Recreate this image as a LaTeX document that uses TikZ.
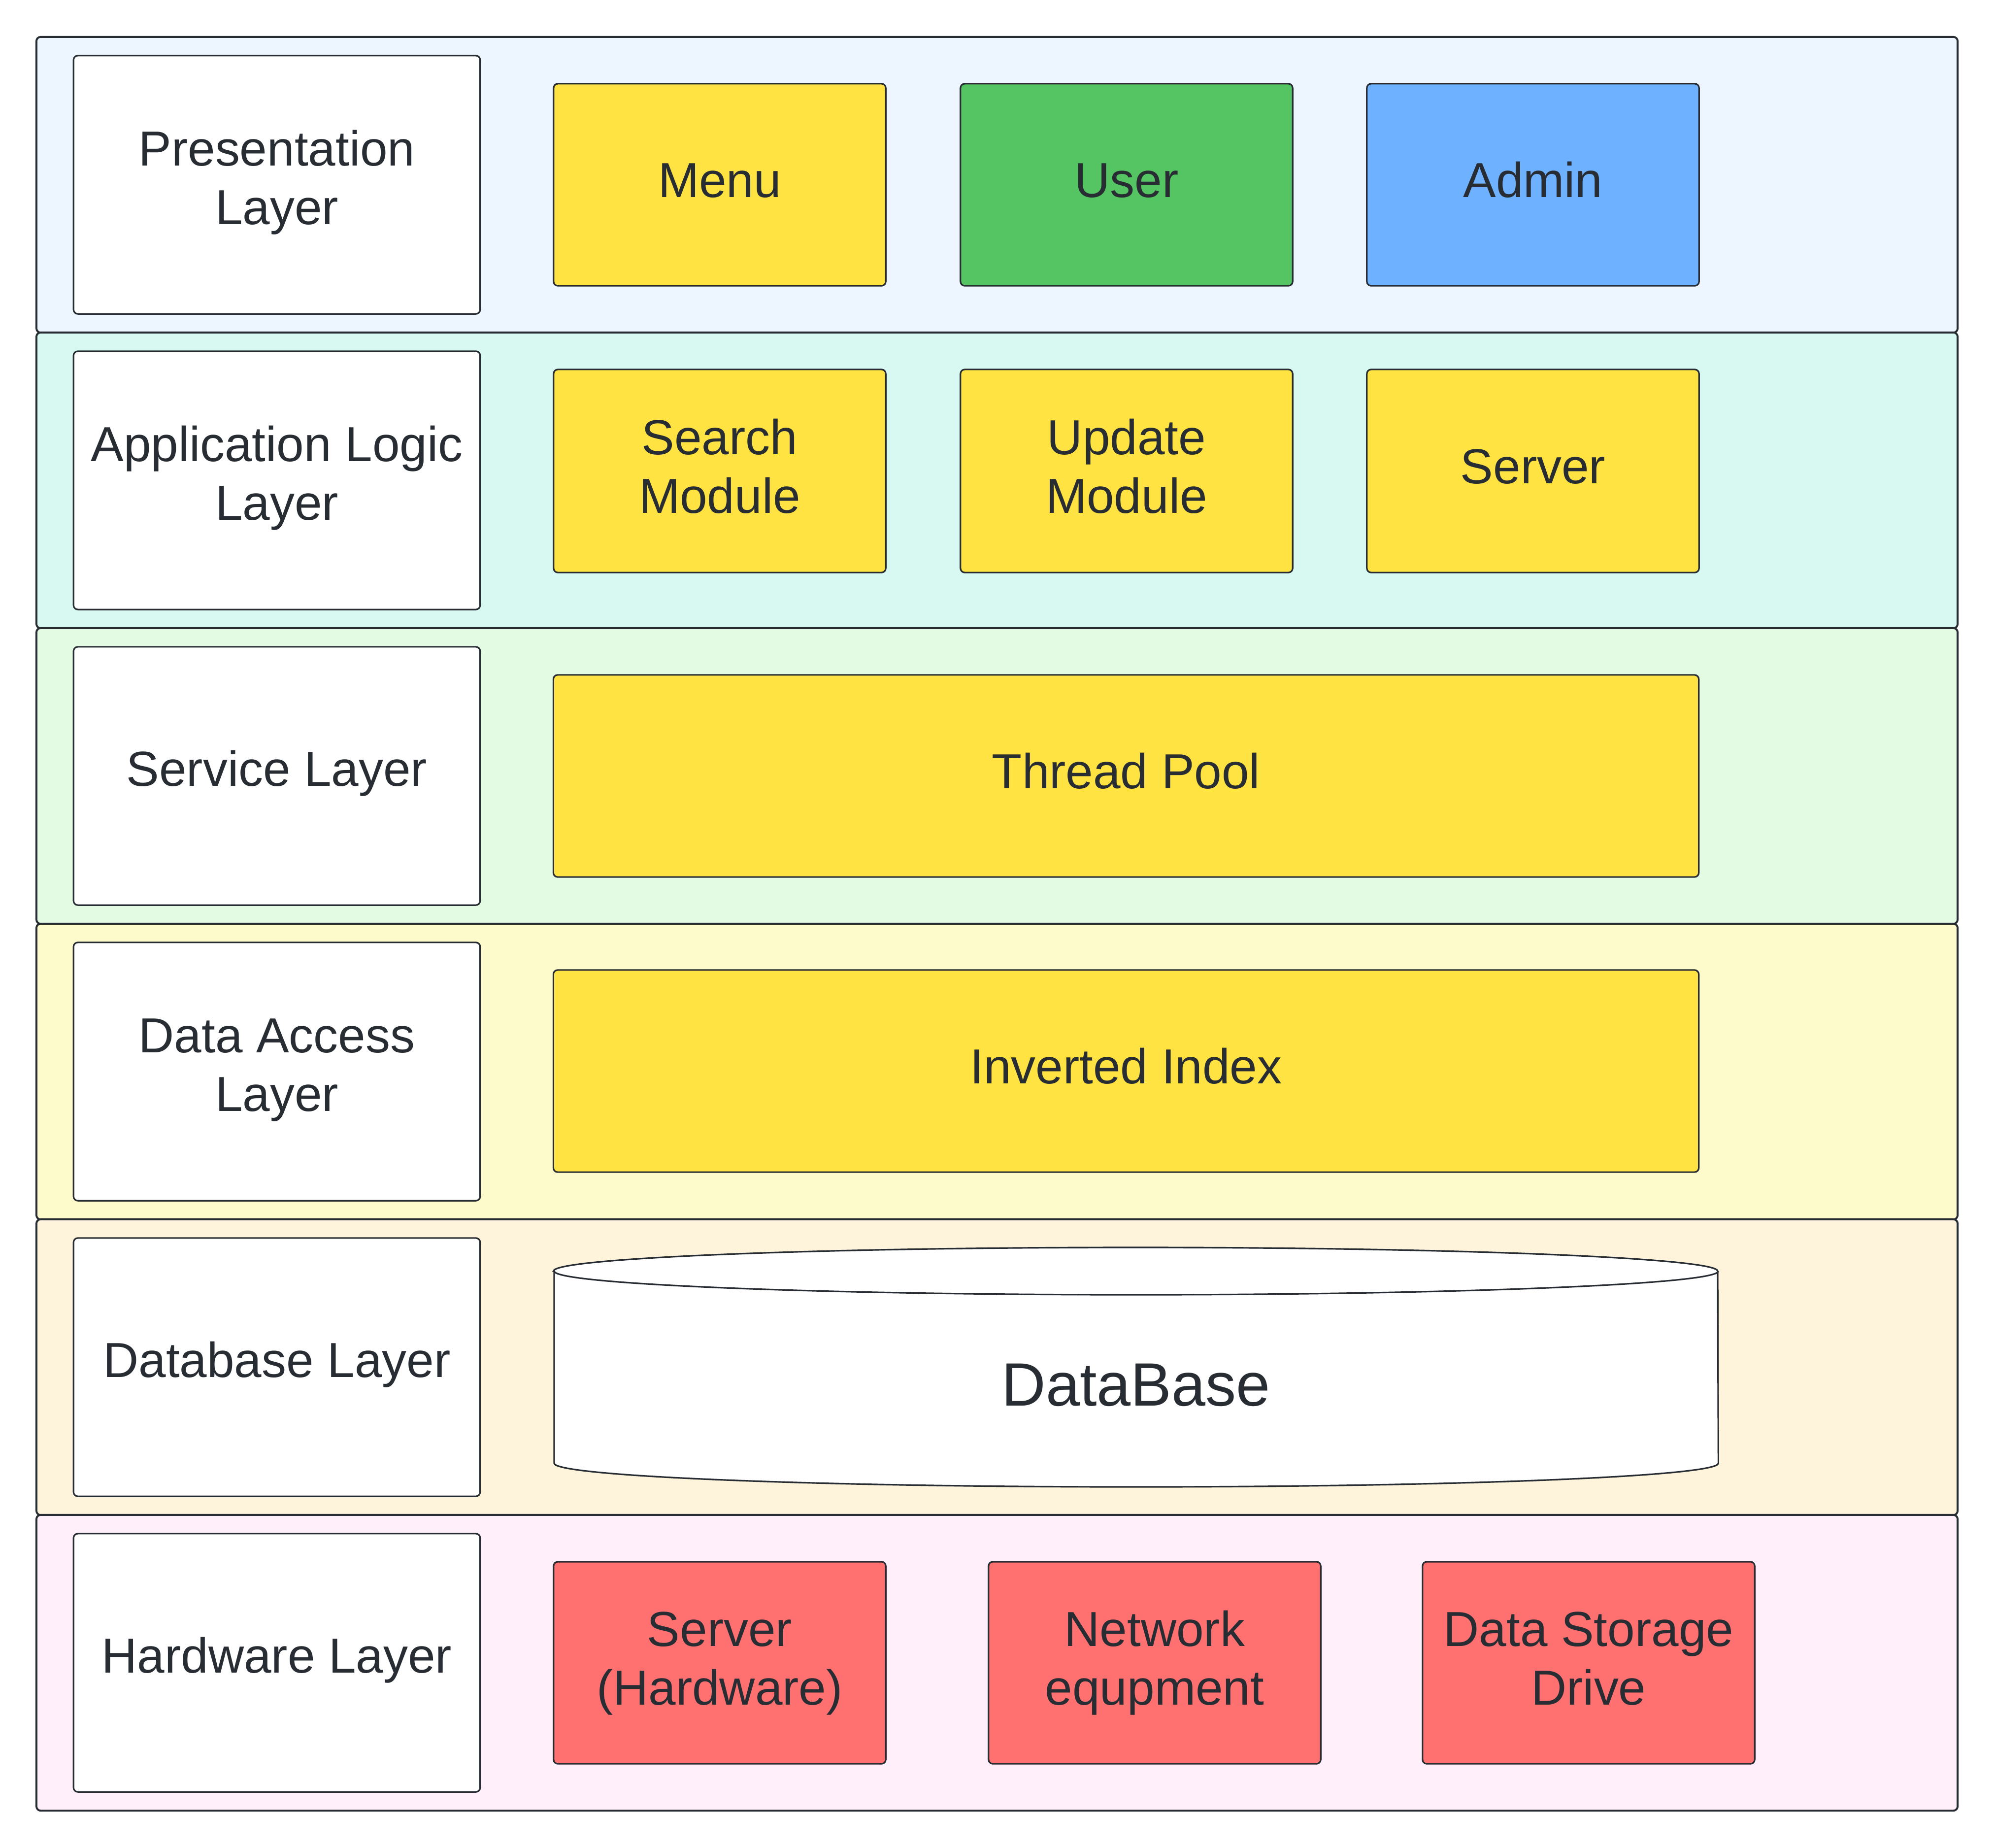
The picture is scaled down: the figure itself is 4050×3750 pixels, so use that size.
\documentclass[tikz,border=0pt]{standalone}
\usepackage{fontspec}
\setmainfont{Liberation Sans}
\definecolor{ink}{HTML}{282C33}
\definecolor{lpres}{HTML}{EDF5FF}
\definecolor{lapp}{HTML}{D7F9F2}
\definecolor{lserv}{HTML}{E3FAE3}
\definecolor{ldata}{HTML}{FDFACB}
\definecolor{ldb}{HTML}{FEF4DB}
\definecolor{lhw}{HTML}{FFEFFA}
\definecolor{cyellow}{HTML}{FFE342}
\definecolor{cgreen}{HTML}{55C462}
\definecolor{cblue}{HTML}{6DB1FF}
\definecolor{cred}{HTML}{FF7070}
\newcommand\lstrut{\rule[-0.3em]{0pt}{1.116em}}
\newcommand\lastrut{\rule[-0.4em]{0pt}{1.216em}}
\begin{document}
\begin{tikzpicture}[x=0.01cm,y=-0.01cm,
  txt/.style={text=ink, align=center, font=\fontsize{28.4}{33.9}\selectfont},
  layerbox/.style={draw=ink, line width=1.1pt, rounded corners=2.5pt, minimum width=38.98cm, minimum height=6cm, inner sep=0pt},
  labelbox/.style={txt, draw=ink, fill=white, line width=0.9pt, rounded corners=2.5pt, minimum width=8.25cm, minimum height=5.24cm, inner sep=0pt},
  comp/.style={txt, draw=ink, line width=0.9pt, rounded corners=2.5pt, minimum width=6.74cm, minimum height=4.1cm, inner sep=0pt},
  widecomp/.style={comp, minimum width=23.24cm}]
\useasboundingbox (0,0) rectangle (4050,3750);

% layers
\node[layerbox, fill=lpres]  (L1) at (2024,375)  {};
\node[layerbox, fill=lapp]   (L2) at (2024,975)  {};
\node[layerbox, fill=lserv]  (L3) at (2024,1575) {};
\node[layerbox, fill=ldata]  (L4) at (2024,2175) {};
\node[layerbox, fill=ldb]    (L5) at (2024,2775) {};
\node[layerbox, fill=lhw]    (L6) at (2024,3375) {};

% layer labels
\node[labelbox] (P)  at (562,375)  {\lstrut Presentation\\\lastrut Layer};
\node[labelbox] (A)  at (562,975)  {\lstrut Application Logic\\\lastrut Layer};
\node[labelbox] (S)  at (562,1575) {\lastrut Service Layer};
\node[labelbox] (D)  at (562,2175) {\lstrut Data Access\\\lastrut Layer};
\node[labelbox] (DB) at (562,2775) {\lastrut Database Layer};
\node[labelbox] (H)  at (562,3375) {\lastrut Hardware Layer};

% presentation
\node[comp, fill=cyellow] (menu)  at (1461,375) {\lstrut Menu};
\node[comp, fill=cgreen]  (user)  at (2287,375) {\lstrut User};
\node[comp, fill=cblue]   (admin) at (3112,375) {\lstrut Admin};

% application logic
\node[comp, fill=cyellow, minimum height=4.12cm] (search) at (1461,956) {\lstrut Search\\\lstrut Module};
\node[comp, fill=cyellow, minimum height=4.12cm] (update) at (2287,956) {\lstrut Update\\\lstrut Module};
\node[comp, fill=cyellow, minimum height=4.12cm] (server) at (3112,956) {\lstrut Server};

% service
\node[widecomp, fill=cyellow] (pool) at (2286,1575) {\lstrut Thread Pool};

% data access
\node[widecomp, fill=cyellow] (index) at (2286,2174) {\lstrut Inverted Index};

% database cylinder
\draw[draw=ink, line width=0.9pt, fill=white]
  (1125,2580) -- (1125,2970)
  arc[start angle=180, end angle=360, x radius=11.81cm, y radius=0.48cm]
  -- (3487,2580)
  arc[start angle=0, end angle=180, x radius=11.81cm, y radius=0.48cm] -- cycle;
\draw[draw=ink, line width=0.9pt]
  (1125,2580) arc[start angle=180, end angle=360, x radius=11.81cm, y radius=0.48cm];
\node[text=ink, font=\fontsize{35.3}{42}\selectfont] (dbtext) at (2306,2811) {DataBase};

% hardware
\node[comp, fill=cred] (hwserver)  at (1461,3375) {\lstrut Server\\\lstrut (Hardware)};
\node[comp, fill=cred] (network)   at (2344,3375) {\lstrut Network\\\lstrut equpment};
\node[comp, fill=cred] (storage)   at (3225,3375) {\lstrut Data Storage\\\lstrut Drive};
\end{tikzpicture}
\end{document}
